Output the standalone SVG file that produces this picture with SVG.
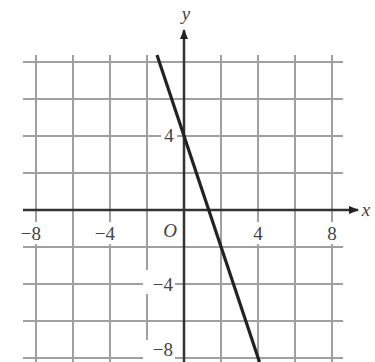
<svg xmlns="http://www.w3.org/2000/svg" width="375" height="362" viewBox="0 0 375 362">
<style>
.grid{stroke:#a0a0a0;stroke-width:2;fill:none}
.axis{stroke:#333;stroke-width:2.5;fill:none}
.graph{stroke:#222;stroke-width:3.2;fill:none}
.lbl{font-family:"Liberation Serif",serif;font-size:19px;fill:#444}
.it{font-style:italic}
.bg{fill:#fff}
</style>
<defs>
<marker id="arr" viewBox="0 0 10 10" refX="9" refY="5" markerWidth="4" markerHeight="4" orient="auto">
<path d="M0,1 L10,5 L0,9 z" fill="#222"/>
</marker>
</defs>
<rect width="375" height="362" fill="#fff"/>
<g id="grid">
<path class="grid" d="M36,55V362M73,55V362M110,55V362M147,55V362M221,55V362M258,55V362M295,55V362M332,55V362"/>
<path class="grid" d="M23,62H343M23,99H343M23,136H343M23,173H343M23,247H343M23,284H343M23,321H343M23,358H343"/>
</g>
<g id="label-bg">
<rect class="bg" x="18" y="222" width="26" height="22"/>
<rect class="bg" x="91" y="222" width="26" height="22"/>
<rect class="bg" x="161" y="220" width="18" height="22"/>
<rect class="bg" x="250" y="222" width="16" height="22"/>
<rect class="bg" x="324" y="222" width="16" height="22"/>
<rect class="bg" x="161" y="124" width="16" height="22"/>
<rect class="bg" x="143" y="270" width="32" height="24"/>
<rect class="bg" x="143" y="340" width="32" height="22"/>
</g>
<g id="connectors">
<line class="axis" x1="23" y1="210" x2="358" y2="210" marker-end="url(#arr)"/>
<line class="axis" x1="184" y1="362" x2="184" y2="30" marker-end="url(#arr)"/>
<line id="graph-line" class="graph" x1="157" y1="55" x2="259.5" y2="362"/>
</g>
<g id="labels">
<text class="lbl" x="41" y="240" text-anchor="end">−8</text>
<text class="lbl" x="115" y="240" text-anchor="end">−4</text>
<text class="lbl it" x="170" y="237" text-anchor="middle">O</text>
<text class="lbl" x="258" y="240" text-anchor="middle">4</text>
<text class="lbl" x="332" y="240" text-anchor="middle">8</text>
<text class="lbl" x="169" y="142" text-anchor="middle">4</text>
<text class="lbl" x="173" y="291" text-anchor="end">−4</text>
<text class="lbl" x="173" y="356" text-anchor="end">−8</text>
<text class="lbl it" x="366" y="216" text-anchor="middle">x</text>
<text class="lbl it" x="186" y="20" text-anchor="middle">y</text>
</g>
</svg>
